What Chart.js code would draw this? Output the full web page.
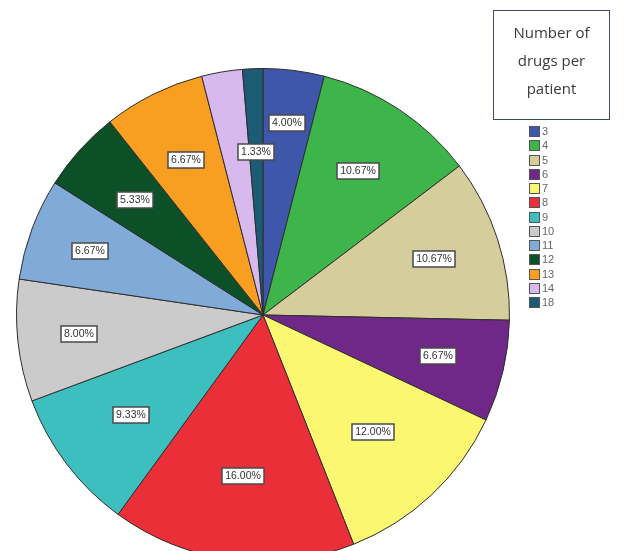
<!DOCTYPE html>
<html>
<head>
<meta charset="utf-8">
<title>Number of drugs per patient</title>
<script src="https://cdn.jsdelivr.net/npm/chart.js@4/dist/chart.umd.min.js"></script>
<style>
  html, body { margin: 0; padding: 0; background: #fff; overflow: hidden; }
  #wrap { position: relative; width: 627px; height: 640px; }
</style>
</head>
<body>
<div id="wrap"><canvas id="pieChart"></canvas></div>
<script>
const categories = ['3', '4', '5', '6', '7', '8', '9', '10', '11', '12', '13', '14', '18'];
const percents = [4.00, 10.67, 10.67, 6.67, 12.00, 16.00, 9.33, 8.00, 6.67, 5.33, 6.67, 2.67, 1.33];
const sliceColors = ['#3f57ab', '#3db54b', '#d6cd9c', '#6f2887', '#fbf771', '#ea2f39', '#3ebfbf',
  '#cbcbcb', '#80aad7', '#0c5027', '#f89e20', '#d8b9ed', '#1b5b74'];
// SPSS hid the 14 label behind the 1.33% box
const hiddenLabels = ['14'];
const legendTitle = ['Number of', 'drugs per', 'patient'];

// how far out (fraction of radius) each label box sits, nudged so boxes don't collide
const labelOffset = [0.785, 0.70, 0.73, 0.73, 0.65, 0.66, 0.67, 0.75, 0.75, 0.70, 0.70, 0.66, 0.66];

const ctx = document.getElementById('pieChart').getContext('2d');

// white boxed percentage inside each slice
const sliceLabels = {
  id: 'sliceLabels',
  afterDatasetsDraw(chart) {
    const c = chart.ctx;
    const arcs = chart.getDatasetMeta(0).data;
    c.save();
    c.font = '10.5px "Liberation Sans", Arial, sans-serif';
    c.textAlign = 'center';
    c.textBaseline = 'middle';
    arcs.forEach((arc, i) => {
      if (hiddenLabels.includes(categories[i])) return;
      const { x, y, startAngle, endAngle, outerRadius } = arc.getProps(['x', 'y', 'startAngle', 'endAngle', 'outerRadius'], true);
      const mid = (startAngle + endAngle) / 2;
      const r = outerRadius * labelOffset[i];
      const lx = Math.round(x + Math.cos(mid) * r);
      const ly = Math.round(y + Math.sin(mid) * r);
      const text = percents[i].toFixed(2) + '%';
      const w = Math.ceil(c.measureText(text).width) + 6;
      const h = 16;
      c.fillStyle = '#fff';
      c.fillRect(lx - w / 2, ly - h / 2, w, h);
      c.strokeStyle = '#4a4a4a';
      c.lineWidth = 1.5;
      c.strokeRect(lx - w / 2, ly - h / 2, w, h);
      c.fillStyle = '#333';
      c.fillText(text, lx, ly + 0.5);
    });
    c.restore();
  }
};

// boxed title and colour key at the top right
const sideLegend = {
  id: 'sideLegend',
  afterDraw(chart) {
    const c = chart.ctx;
    c.save();
    c.strokeStyle = '#3d4e63';
    c.lineWidth = 1;
    c.strokeRect(493.5, 10.5, 116, 109);
    c.fillStyle = '#3a3a3a';
    c.font = '15px "Open Sans", "Liberation Sans", sans-serif';
    c.textAlign = 'center';
    c.textBaseline = 'middle';
    legendTitle.forEach((line, i) => c.fillText(line, 551.5, 34 + i * 28));

    const colors = chart.data.datasets[0].backgroundColor;
    c.font = '11px "Liberation Sans", Arial, sans-serif';
    c.textAlign = 'left';
    chart.data.labels.forEach((label, i) => {
      const y = Math.round(126 + i * 14.25);
      c.fillStyle = colors[i];
      c.fillRect(529.5, y + 0.5, 10, 10);
      c.strokeStyle = '#555';
      c.strokeRect(529.5, y + 0.5, 10, 10);
      c.fillStyle = '#666';
      c.fillText(label, 542, y + 6);
    });
    c.restore();
  }
};

new Chart(ctx, {
  type: 'pie',
  data: {
    labels: categories,
    datasets: [{
      data: percents,
      backgroundColor: sliceColors,
      borderColor: '#2e2e2e',
      borderWidth: 1
    }]
  },
  options: {
    responsive: true,
    maintainAspectRatio: false,
    animation: false,
    layout: { padding: { left: 16, top: 68, right: 117, bottom: 78 } },
    plugins: {
      legend: { display: false },
      tooltip: { enabled: false }
    }
  },
  plugins: [sliceLabels, sideLegend]
});
</script>
</body>
</html>
